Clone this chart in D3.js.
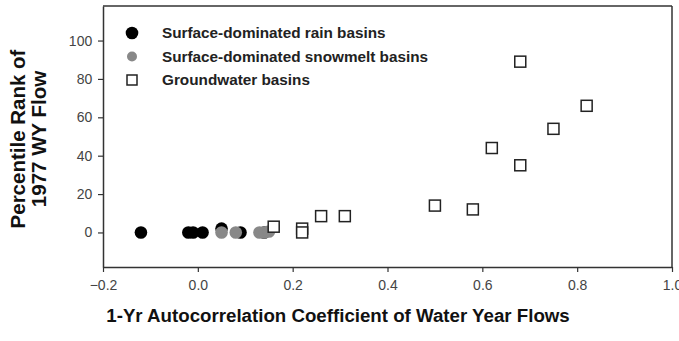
<!DOCTYPE html>
<html>
<head>
<meta charset="utf-8">
<script src="https://cdn.jsdelivr.net/npm/d3@7"></script>
<style>
  body { margin: 0; background: #fff; }
  svg { display: block; font-family: "Liberation Sans", Arial, sans-serif; }
</style>
</head>
<body>
<svg id="chart"></svg>
<script>
// Series values
const rainX = [-0.12, -0.02, -0.01, 0.01, 0.05, 0.09, 0.14];
const rainY = [0, 0, 0, 0, 2, 0, 0];
const snowX = [0.05, 0.08, 0.13, 0.14, 0.15];
const snowY = [0, 0, 0, 0, 0.5];
const gwX = [0.16, 0.22, 0.22, 0.26, 0.31, 0.50, 0.58, 0.62, 0.68, 0.68, 0.75, 0.82];
const gwY = [3, 2, 0, 8.5, 8.5, 14, 12, 44, 89, 35, 54, 66];
const xTicks = [-0.2, 0.0, 0.2, 0.4, 0.6, 0.8, 1.0];
const yTicks = [0, 20, 40, 60, 80, 100];
const legendLabels = ["Surface-dominated rain basins", "Surface-dominated snowmelt basins", "Groundwater basins"];

const W = 679, H = 341;
const margin = {top: 6, right: 7, bottom: 74, left: 103};
const width = W - margin.left - margin.right;
const height = H - margin.top - margin.bottom;

const svg = d3.select("#chart").attr("width", W).attr("height", H);
const g = svg.append("g").attr("transform", `translate(${margin.left},${margin.top})`);

const x = d3.scaleLinear().domain([-0.2, 1.0]).range([0, width]);
const y = d3.scaleLinear().domain([-18, 118]).range([height, 0]);

// Axes
const xAxis = g.append("g")
    .attr("transform", `translate(0,${height})`)
    .call(d3.axisBottom(x).tickValues(xTicks).tickFormat(d3.format(".1f")).tickSize(5).tickSizeOuter(0));
const yAxis = g.append("g")
    .call(d3.axisLeft(y).tickValues(yTicks).tickSize(5).tickSizeOuter(0));

[xAxis, yAxis].forEach(a => {
    a.select(".domain").attr("stroke", "#333").attr("stroke-width", 1.5);
    a.selectAll(".tick line").attr("stroke", "#333").attr("stroke-width", 1.2);
    a.selectAll(".tick text").attr("fill", "#444").style("font-size", "14px");
});
xAxis.selectAll(".tick text").attr("dy", "1.05em");
yAxis.selectAll(".tick text").attr("dx", "-0.2em");

// Top and right borders
g.append("line").attr("x1", 0).attr("x2", width).attr("y1", 0).attr("y2", 0)
    .attr("stroke", "#333").attr("stroke-width", 1.5);
g.append("line").attr("x1", width).attr("x2", width).attr("y1", 0).attr("y2", height)
    .attr("stroke", "#333").attr("stroke-width", 1.5);

// Points
const rain = rainX.map((v, i) => ({x: v, y: rainY[i]}));
const snow = snowX.map((v, i) => ({x: v, y: snowY[i]}));
const gw = gwX.map((v, i) => ({x: v, y: gwY[i]}));

g.selectAll(".rain").data(rain).enter().append("circle")
    .attr("cx", d => x(d.x)).attr("cy", d => y(d.y)).attr("r", 6.3)
    .attr("fill", "#000");
g.selectAll(".snow").data(snow).enter().append("circle")
    .attr("cx", d => x(d.x)).attr("cy", d => y(d.y)).attr("r", 6.3)
    .attr("fill", "#888");
g.selectAll(".gw").data(gw).enter().append("rect")
    .attr("x", d => x(d.x) - 5.5).attr("y", d => y(d.y) - 5.5)
    .attr("width", 11).attr("height", 11)
    .attr("fill", "#fff").attr("stroke", "#222").attr("stroke-width", 1.5);

// Legend
const legend = g.append("g").attr("transform", "translate(29,27)");
legendLabels.forEach((label, i) => {
    const row = legend.append("g").attr("transform", `translate(0,${i * 23.5})`);
    if (i === 0) row.append("circle").attr("r", 6.3).attr("fill", "#000");
    if (i === 1) row.append("circle").attr("r", 5).attr("fill", "#888");
    if (i === 2) row.append("rect").attr("x", -5).attr("y", -5).attr("width", 10).attr("height", 10)
        .attr("fill", "#fff").attr("stroke", "#222").attr("stroke-width", 1.5);
    row.append("text").attr("x", 30).attr("dy", "0.35em")
        .attr("fill", "#222").style("font-size", "15.3px").style("font-weight", "bold")
        .text(label);
});

// Axis titles
svg.append("text")
    .attr("x", 338).attr("y", 322)
    .attr("text-anchor", "middle")
    .attr("fill", "#111").style("font-size", "18.7px").style("font-weight", "bold")
    .text("1-Yr Autocorrelation Coefficient of Water Year Flows");

const yt = svg.append("text")
    .attr("transform", "translate(0,139) rotate(-90)")
    .attr("text-anchor", "middle")
    .attr("fill", "#111").style("font-size", "20.5px").style("font-weight", "bold");
yt.append("tspan").attr("x", 0).attr("y", 25).text("Percentile Rank of");
yt.append("tspan").attr("x", 0).attr("y", 46).text("1977 WY Flow");
</script>
</body>
</html>
